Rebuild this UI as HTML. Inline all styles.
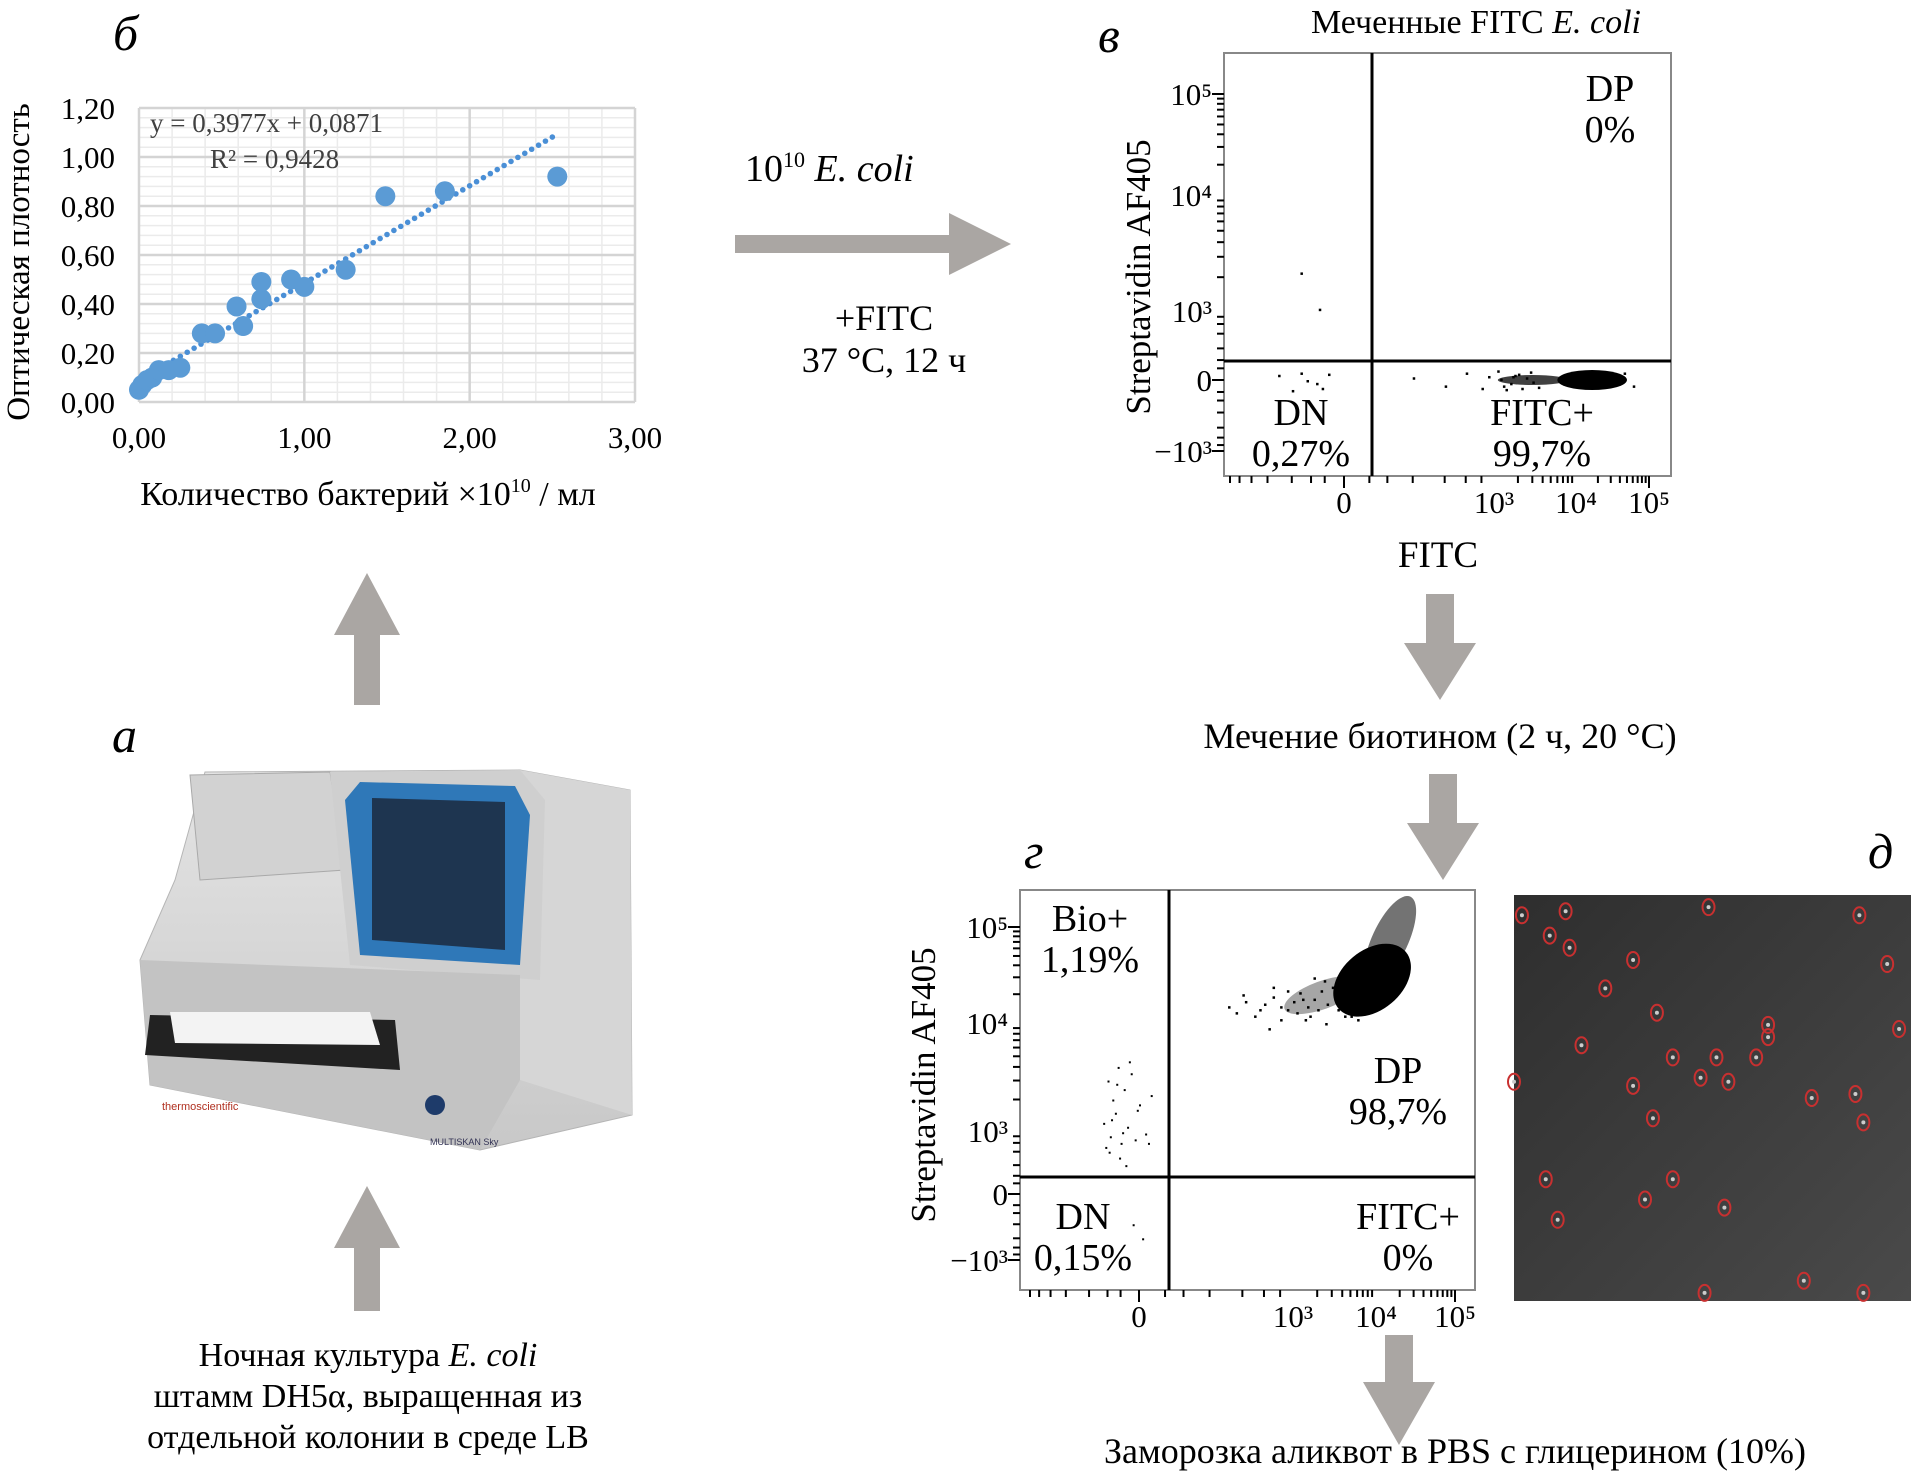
<!DOCTYPE html>
<html><head><meta charset="utf-8"><style>
html,body{margin:0;padding:0;background:#fff;}
svg{display:block;font-family:"Liberation Serif","Noto Serif CJK SC",serif;}
</style></head><body>
<svg id="s" width="1917" height="1480" viewBox="0 0 1917 1480" xmlns="http://www.w3.org/2000/svg">
<defs>
<linearGradient id="mg" x1="0" y1="0" x2="1" y2="1"><stop offset="0" stop-color="#2e2e2e"/><stop offset="1" stop-color="#4a4a4a"/></linearGradient>
<linearGradient id="bodyg" x1="0" y1="0" x2="0" y2="1"><stop offset="0" stop-color="#e4e4e4"/><stop offset="1" stop-color="#c8c8c8"/></linearGradient>
</defs>
<g id="chartB"></g>
<g id="flowV"></g>
<g id="flowG"></g>
<g id="micro"></g>
<g id="arrows" fill="#aaa6a3"></g>

<text x="113" y="50" font-size="50" font-style="italic">б</text>
<text x="1098" y="52" font-size="50" font-style="italic">в</text>
<text x="112" y="752" font-size="50" font-style="italic">а</text>
<text x="1024" y="868" font-size="50" font-style="italic">г</text>
<text x="1868" y="868" font-size="50" font-style="italic">д</text>

<text x="1476" y="33" font-size="34" text-anchor="middle">Меченные FITC <tspan font-style="italic">E. coli</tspan></text>

<text x="745" y="181" font-size="38">10<tspan font-size="22" dy="-14">10</tspan><tspan dy="14"> </tspan><tspan font-style="italic">E. coli</tspan></text>
<text x="884" y="330" font-size="36" text-anchor="middle">+FITC</text>
<text x="884" y="372" font-size="36" text-anchor="middle">37 °C, 12 ч</text>

<text x="1440" y="748" font-size="36" text-anchor="middle">Мечение биотином (2 ч, 20 °C)</text>
<text x="1455" y="1463" font-size="36" text-anchor="middle">Заморозка аликвот в PBS с глицерином (10%)</text>

<text x="368" y="1366" font-size="34" text-anchor="middle">Ночная культура <tspan font-style="italic">E. coli</tspan></text>
<text x="368" y="1407" font-size="34" text-anchor="middle">штамм DH5α, выращенная из</text>
<text x="368" y="1448" font-size="34" text-anchor="middle">отдельной колонии в среде LB</text>

<g id="instrument">
  <polygon points="205,772 520,770 630,790 632,1115 480,1150 150,1085 140,960 175,880" fill="url(#bodyg)" stroke="#b5b5b5"/>
  <polygon points="520,770 630,790 632,1115 520,1080" fill="#d6d6d6"/>
  <polygon points="190,775 330,772 345,870 200,880" fill="#d2d2d2" stroke="#a9a9a9"/>
  <polygon points="330,772 520,770 545,800 540,980 350,965" fill="#cfcfcf"/>
  <polygon points="360,782 515,786 530,815 520,965 360,955 345,800" fill="#2f78b8"/>
  <polygon points="372,798 505,802 505,950 372,940" fill="#1e3550"/>
  <polygon points="140,960 520,975 520,1080 480,1150 150,1085" fill="#c3c3c3"/>
  <polygon points="150,1015 395,1020 400,1070 145,1055" fill="#222"/>
  <polygon points="170,1012 370,1012 380,1045 175,1043" fill="#f3f3f3"/>
  <circle cx="435" cy="1105" r="10" fill="#1e3b6a"/>
  <text x="162" y="1110" font-size="11" fill="#b03020" font-family="Liberation Sans, sans-serif">thermoscientific</text>
  <text x="430" y="1145" font-size="9" fill="#335" font-family="Liberation Sans, sans-serif">MULTISKAN Sky</text>
</g>
</svg>
<script>
const NS="http://www.w3.org/2000/svg";
function el(tag,attrs,parent){const e=document.createElementNS(NS,tag);for(const k in attrs)e.setAttribute(k,attrs[k]);parent.appendChild(e);return e;}

/* ---------- Chart б data ---------- */
const odX=[0.00,0.02,0.05,0.08,0.12,0.18,0.25,0.38,0.46,0.59,0.63,0.74,0.74,0.92,1.00,1.25,1.49,1.85,2.53];
const odY=[0.05,0.07,0.09,0.10,0.13,0.13,0.14,0.28,0.28,0.39,0.31,0.42,0.49,0.50,0.47,0.54,0.84,0.86,0.92];
const odYTicks=["0,00","0,20","0,40","0,60","0,80","1,00","1,20"];
const odXTicks=["0,00","1,00","2,00","3,00"];
const trendSlope=0.3977, trendIntercept=0.0871;

/* ---------- Flow в data ---------- */
const fvSparseX=[-300,-200,-150,-80,-40,-60,-120,200,400,600,800,900,1100,1400,1800,2500,3500,1200,1600,2000,2200,2800,3000,1300,1700,45000,60000,-150,-70];
const fvSparseY=[20,-40,30,-10,25,-30,0,10,-20,30,-30,15,40,-35,20,10,-25,5,-10,25,-30,35,-5,-20,15,30,-20,2200,1050];
const fvClusterX=[1500,6000,50000]; // min, centre, max FITC
const fvClusterY=[0];
const fvXTicks=["0","10³","10⁴","10⁵"];
const fvXTickVals=[0,1000,10000,100000];
const fvYTicks=["10⁵","10⁴","10³","0","−10³"];
const fvYTickVals=[100000,10000,1000,0,-1000];

/* ---------- Flow г data ---------- */
const fgSparseX=[300,350,420,500,600,700,800,900,1000,1200,1500,1800,2200,2600,3000,3500,4000,800,650,1100,1600,2000,2500,5000,400,550,900,1300,20000,1800,2400,3200,4200,700,1400,6000,7000];
const fgSparseY=[15000,13000,17000,12000,16000,19000,15000,14000,17000,21000,15000,18000,22000,16000,24000,14000,26000,11000,9000,13000,12000,14000,10000,12000,20000,14000,22000,18000,1300,30000,28000,19000,12000,24000,11000,11000,45000];
const fgBioX=[-120,-100,-90,-80,-70,-60,-50,-40,-30,-20,-10,0,10,20,-110,-85,-65,-45,-25,-5,15,-95,-55,-35,-15,5];
const fgBioY=[1200,3000,800,2000,1500,4000,600,2500,1100,3500,700,1800,900,2200,500,1300,2800,950,4500,1600,600,400,300,200,-200,-400];
const fgCluster=[9000,28000]; // centre FITC, centre Streptavidin
const fgXTicks=["0","10³","10⁴","10⁵"];
const fgXTickVals=[0,1000,10000,100000];
const fgYTicks=["10⁵","10⁴","10³","0","−10³"];
const fgYTickVals=[100000,10000,1000,0,-1000];

/* ---------- Microscopy cells (fractional) ---------- */
const cellFX=[0.02,0.13,0.49,0.87,0.09,0.14,0.30,0.94,0.23,0.36,0.64,0.64,0.97,0.17,0.40,0.51,0.61,0.00,0.47,0.54,0.30,0.75,0.86,0.35,0.88,0.08,0.40,0.33,0.53,0.11,0.73,0.48,0.88];
const cellFY=[0.05,0.04,0.03,0.05,0.10,0.13,0.16,0.17,0.23,0.29,0.32,0.35,0.33,0.37,0.40,0.40,0.40,0.46,0.45,0.46,0.47,0.50,0.49,0.55,0.56,0.70,0.70,0.75,0.77,0.80,0.95,0.98,0.98];

/* ===== Chart б ===== */
(function(){
 const g=document.getElementById('chartB');
 const L=139,R=635,T=108,B=402;
 const x=v=>L+v/3*(R-L), y=v=>B-v/1.2*(B-T);
 for(let v=0;v<=3.001;v+=0.2){const l=el('line',{x1:x(v),x2:x(v),y1:T,y2:B,stroke:'#ebebeb','stroke-width':1.5},g);}
 for(let v=0;v<=1.2001;v+=0.04){const l=el('line',{x1:L,x2:R,y1:y(v),y2:y(v),stroke:'#ebebeb','stroke-width':1.5},g);}
 odYTicks.forEach((t,i)=>{const v=i*0.2;
  const l=el('line',{x1:L,x2:R,y1:y(v),y2:y(v),stroke:'#d4d4d4','stroke-width':2.5},g);
  const tx=el('text',{x:L-24,y:y(v)+11,'font-size':31,'text-anchor':'end'},g);tx.textContent=t;});
 odXTicks.forEach((t,i)=>{const v=i;
  const l=el('line',{x1:x(v),x2:x(v),y1:T,y2:B,stroke:'#d4d4d4','stroke-width':2.5},g);
  const tx=el('text',{x:x(v),y:448,'font-size':31,'text-anchor':'middle'},g);tx.textContent=t;});
 const x0=0,x1=2.5;const N=60;
 for(let i=0;i<=N;i++){const v=x0+(x1-x0)*i/N;const c=el('circle',{cx:x(v),cy:y(trendIntercept+trendSlope*v),r:2.8,fill:'#4a8fd6'},g);}
 odX.forEach((v,i)=>{const c=el('circle',{cx:x(v),cy:y(odY[i]),r:10,fill:'#5b9bd5'},g);});
 const eq=el('text',{x:150,y:132,'font-size':27,fill:'#404040'},g);eq.textContent='y = 0,3977x + 0,0871';
 const r2=el('text',{x:210,y:168,'font-size':27,fill:'#404040'},g);r2.textContent='R² = 0,9428';
 const yt=el('text',{x:0,y:0,'font-size':33,'text-anchor':'middle',transform:'translate(29,262) rotate(-90)'},g);yt.textContent='Оптическая плотность';
 const xt=el('text',{x:368,y:505,'font-size':34,'text-anchor':'middle'},g);xt.innerHTML='Количество бактерий ×10<tspan font-size="20" dy="-13">10</tspan><tspan dy="13"> / мл</tspan>';
})();

/* ===== Flow plot helper ===== */
function interp(anchV,anchP){const t=v=>Math.sign(v)*Math.log10(1+Math.abs(v)/100);
 const tv=anchV.map(t);return v=>{const a=t(v);let i=0;
  const idx=tv.map((q,k)=>k).sort((p,q)=>tv[p]-tv[q]);const sv=idx.map(k=>tv[k]),sp=idx.map(k=>anchP[k]);
  if(a<=sv[0])i=0;else if(a>=sv[sv.length-1])i=sv.length-2;else{while(a>sv[i+1])i++;}
  return sp[i]+(a-sv[i])/(sv[i+1]-sv[i])*(sp[i+1]-sp[i]);};}
function flowFrame(g,L,R,T,B,xs,ys,xTV,xTL,yTV,yTL,gx,gy,labY,ylab){
 const r=el('rect',{x:L,y:T,width:R-L,height:B-T,fill:'none',stroke:'#888','stroke-width':2},g);
 const minV=[-1000,-800,-600,-400,-200,-100,-50,0,50,100,200,400,600,800];
 [1000,10000].forEach(d=>{for(let k=2;k<=9;k++)minV.push(d*k);});minV.push(100000);
 minV.forEach(v=>{const px=xs(v);if(px>L&&px<R){const t=el('line',{x1:px,x2:px,y1:B,y2:B+(xTV.includes(v)?12:7),stroke:'#000','stroke-width':2},g);}
  const py=ys(v);if(py>T&&py<B){const t=el('line',{x1:L,x2:L-(yTV.includes(v)?12:7),y1:py,y2:py,stroke:'#000','stroke-width':2},g);}});
 xTV.forEach((v,i)=>{const t=el('text',{x:xs(v),y:labY,'font-size':31,'text-anchor':'middle'},g);t.textContent=xTL[i];});
 yTV.forEach((v,i)=>{const t=el('text',{x:L-12,y:ys(v)+11,'font-size':31,'text-anchor':'end'},g);t.textContent=yTL[i];});
 const a=el('line',{x1:L,x2:R,y1:gy,y2:gy,stroke:'#000','stroke-width':3},g);
 const b=el('line',{x1:gx,x2:gx,y1:T,y2:B,stroke:'#000','stroke-width':3},g);
 const yl=el('text',{x:0,y:0,'font-size':35,'text-anchor':'middle',transform:`translate(${ylab[0]},${ylab[1]}) rotate(-90)`},g);yl.textContent='Streptavidin AF405';
}
function qlabel(g,x,y,a,b,name){const t=el('text',{x:x,y:y,'font-size':38,'text-anchor':'middle'},g);t.textContent=a;
 const u=el('text',{x:x,y:y+41,'font-size':38,'text-anchor':'middle'},g);u.textContent=b;}

/* ===== Flow в ===== */
(function(){
 const g=document.getElementById('flowV');
 const xs=interp([-1000,0,1000,10000,100000],[1230,1344,1494,1576,1649]);
 const ys=interp([-1000,0,1000,10000,100000],[451,380,311,195,94]);
 flowFrame(g,1224,1671,53,476,xs,ys,fvXTickVals,fvXTicks,fvYTickVals,fvYTicks,1372,361,513,[1150,277]);
 const cx0=xs(fvClusterX[0]),cxc=xs(fvClusterX[1]),cx1=xs(fvClusterX[2]),cy=ys(fvClusterY[0]);
 const e2=el('ellipse',{cx:(cx0+cxc)/2,cy:cy,rx:(cxc-cx0)/2+10,ry:5,fill:'#000',opacity:0.75},g);
 const e1=el('ellipse',{cx:(cxc+cx1)/2,cy:cy,rx:(cx1-cxc)/2,ry:10,fill:'#000'},g);
 fvSparseX.forEach((v,i)=>{const c=el('rect',{x:xs(v),y:ys(fvSparseY[i]),width:2.5,height:2.5,fill:'#000'},g);});
 const xl=el('text',{x:1438,y:567,'font-size':37,'text-anchor':'middle'},g);xl.textContent='FITC';
 qlabel(g,1610,101,'DP','0%','dp-label');
 qlabel(g,1301,425,'DN','0,27%','dn-label');
 qlabel(g,1542,425,'FITC+','99,7%','fitc-label');
})();

/* ===== Flow г ===== */
(function(){
 const g=document.getElementById('flowG');
 const xs=interp([-1000,0,1000,10000,100000],[1030,1139,1293,1376,1455]);
 const ys=interp([-1000,0,1000,10000,100000],[1260,1194,1131,1023,927]);
 flowFrame(g,1020,1475,890,1290,xs,ys,fgXTickVals,fgXTicks,fgYTickVals,fgYTicks,1169,1177,1327,[935,1085]);
 const cx=xs(fgCluster[0]),cy=ys(fgCluster[1]);
 const e2=el('ellipse',{cx:cx+18,cy:cy-40,rx:18,ry:48,fill:'#000',opacity:0.55,transform:`rotate(25 ${cx+18} ${cy-40})`},g);
 const e=el('ellipse',{cx:cx,cy:cy,rx:44,ry:30,fill:'#000',transform:`rotate(-40 ${cx} ${cy})`},g);
 const e3=el('ellipse',{cx:cx-50,cy:cy+15,rx:40,ry:14,fill:'#000',opacity:0.35,transform:`rotate(-20 ${cx-50} ${cy+15})`},g);
 fgSparseX.forEach((v,i)=>{const c=el('rect',{x:xs(v),y:ys(fgSparseY[i]),width:2.5,height:2.5,fill:'#000'},g);});
 fgBioX.forEach((v,i)=>{const c=el('rect',{x:xs(v),y:ys(fgBioY[i]),width:2,height:2,fill:'#000'},g);});
 qlabel(g,1090,931,'Bio+','1,19%','bio-label');
 qlabel(g,1398,1083,'DP','98,7%','dp-label');
 qlabel(g,1083,1229,'DN','0,15%','dn-label');
 qlabel(g,1408,1229,'FITC+','0%','fitc-label');
})();

/* ===== Microscopy ===== */
(function(){
 const g=document.getElementById('micro');
 const L=1514,T=895,W=397,H=406;
 const r=el('rect',{x:L,y:T,width:W,height:H,fill:'url(#mg)'},g);
 cellFX.forEach((f,i)=>{const cx=L+f*W,cy=T+cellFY[i]*H;
  const c=el('ellipse',{cx:cx,cy:cy,rx:6,ry:8,fill:'none',stroke:'#c83030','stroke-width':2},g);
  const d=el('circle',{cx:cx,cy:cy,r:2,fill:'#ccc'},g);});
})();

/* ===== Arrows ===== */
(function(){
 const g=document.getElementById('arrows');
 function down(cx,y0,y1,hy,name){const p=el('polygon',{points:`${cx-14},${y0} ${cx+14},${y0} ${cx+14},${hy} ${cx+36},${hy} ${cx},${y1} ${cx-36},${hy} ${cx-14},${hy}`},g);}
 function up(cx,y0,y1,hy,name){const p=el('polygon',{points:`${cx-13},${y0} ${cx+13},${y0} ${cx+13},${hy} ${cx+33},${hy} ${cx},${y1} ${cx-33},${hy} ${cx-13},${hy}`},g);}
 const h=el('polygon',{points:'735,235 949,235 949,213 1011,244 949,275 949,253 735,253'},g);
 down(1440,594,700,643,'arrow-to-biotin');
 down(1443,774,880,823,'arrow-to-flow-g');
 down(1399,1335,1445,1382,'arrow-to-freeze');
 up(367,705,573,635,'arrow-to-chart');
 up(367,1311,1186,1248,'arrow-to-instrument');
})();
</script>
</body></html>
